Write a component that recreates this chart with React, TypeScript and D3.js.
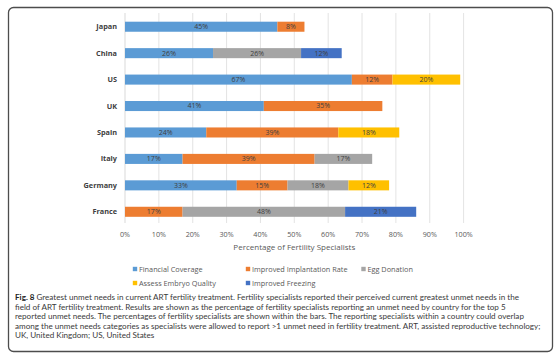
import React from "react";
import * as d3 from "d3";

const countries = ["Japan", "China", "US", "UK", "Spain", "Italy", "Germany", "France"];
const seriesNames = ["Financial Coverage", "Improved Implantation Rate", "Egg Donation", "Assess Embryo Quality", "Improved Freezing"];
const seriesColors = ["#5B9BD5", "#ED7D31", "#A5A5A5", "#FFC000", "#4472C4"];
const financialCoverage = [45, 26, 67, 41, 24, 17, 33, 0];
const improvedImplantation = [8, 0, 12, 35, 39, 39, 15, 17];
const eggDonation = [0, 26, 0, 0, 0, 17, 18, 48];
const assessEmbryo = [0, 0, 20, 0, 18, 0, 12, 0];
const improvedFreezing = [0, 12, 0, 0, 0, 0, 0, 21];
const xTicks = [0, 10, 20, 30, 40, 50, 60, 70, 80, 90, 100];
const axisTitle = "Percentage of Fertility Specialists";
const captionLines = [
  "Greatest unmet needs in current ART fertility treatment. Fertility specialists reported their perceived current greatest unmet needs in the",
  "field of ART fertility treatment. Results are shown as the percentage of fertility specialists reporting an unmet need by country for the top 5",
  "reported unmet needs. The percentages of fertility specialists are shown within the bars. The reporting specialists within a country could overlap",
  "among the unmet needs categories as specialists were allowed to report >1 unmet need in fertility treatment. ART, assisted reproductive technology;",
  "UK, United Kingdom; US, United States",
];
const captionLead = "Fig. 8";

const seriesValues = [financialCoverage, improvedImplantation, eggDonation, assessEmbryo, improvedFreezing];

export default function App() {
  const W = 558, H = 360;
  const x = d3.scaleLinear().domain([0, 100]).range([125, 463.6]);
  const y = d3.scaleBand().domain(countries).range([13.5, 225]).paddingInner(0.62).paddingOuter(0.31);
  const font = "'Open Sans', sans-serif";

  const rows = countries.map((c, i) => {
    let acc = 0;
    return seriesValues.map((vals, s) => {
      const v = vals[i];
      const seg = { c, s, x0: acc, x1: acc + v, v };
      acc += v;
      return seg;
    }).filter(d => d.v > 0);
  });

  const legendPos = [
    { x: 135, y: 269 }, { x: 248, y: 269 }, { x: 363.5, y: 269 },
    { x: 135, y: 283 }, { x: 248, y: 283 },
  ];

  return (
    <svg width={W} height={H} style={{ position: "absolute", left: 0, top: 0 }} fontFamily={font}>
      <rect x={0} y={0} width={W} height={H} fill="#fff" />
      <rect x={8.5} y={7.5} width={544} height={344} rx={5} fill="#fff" stroke="#4d4d4d" strokeWidth={1.3} />
      {xTicks.map(t => (
        <line key={t} x1={x(t)} x2={x(t)} y1={13} y2={223} stroke={t === 0 ? "#cfcfcf" : "#dcdcdc"} strokeWidth={0.8} />
      ))}
      {rows.map((segs, i) => segs.map(d => (
        <g key={countries[i] + d.s}>
          <rect x={x(d.x0)} y={y(d.c)!} width={x(d.x1) - x(d.x0)} height={y.bandwidth()} fill={seriesColors[d.s]} />
          <text x={(x(d.x0) + x(d.x1)) / 2} y={y(d.c)! + y.bandwidth() / 2} dy="0.35em" textAnchor="middle" fontSize={7} fill="#404040">{d.v}%</text>
        </g>
      )))}
      {countries.map(c => (
        <text key={c} x={117} y={y(c)! + y.bandwidth() / 2} dy="0.35em" textAnchor="end" fontSize={7.3} fontWeight="bold" fill="#404040">{c}</text>
      ))}
      {xTicks.map(t => (
        <text key={t} x={x(t)} y={234} dy="0.35em" textAnchor="middle" fontSize={7.2} fill="#595959">{t}%</text>
      ))}
      <text x={x(50)} y={247} dy="0.35em" textAnchor="middle" fontSize={8} fill="#595959">{axisTitle}</text>
      {seriesNames.map((n, i) => (
        <g key={n}>
          <rect x={legendPos[i].x - 2.2} y={legendPos[i].y - 2.2} width={4.4} height={4.4} fill={seriesColors[i]} />
          <text x={legendPos[i].x + 4} y={legendPos[i].y} dy="0.35em" fontSize={7.3} fill="#595959">{n}</text>
        </g>
      ))}
      {captionLines.map((l, i) => (
        <text key={i} x={15} y={300 + i * 9.5} fontSize={8.1} fill="#3a3a3a" fontFamily="Lato, sans-serif">
          {i === 0 ? <tspan fontWeight="bold" fill="#222">{captionLead} </tspan> : null}
          {l}
        </text>
      ))}
    </svg>
  );
}
